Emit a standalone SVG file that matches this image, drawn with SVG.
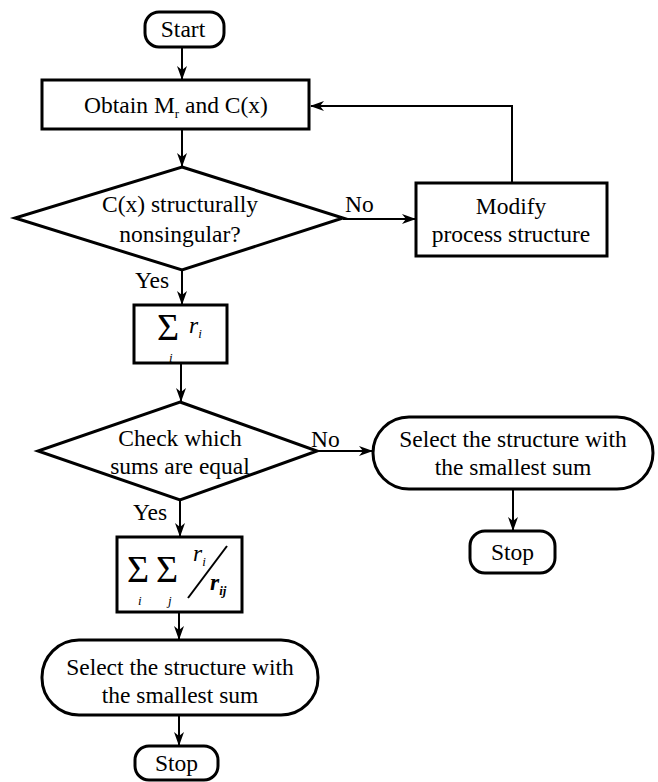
<svg xmlns="http://www.w3.org/2000/svg" width="658" height="782" viewBox="0 0 658 782" font-family="'Liberation Serif', 'DejaVu Serif', serif">
<style>
.n{fill:#fff;stroke:#000;stroke-width:3}
.c{fill:none;stroke:#000;stroke-width:2}
.t{font-family:'Liberation Serif','DejaVu Serif',serif;font-size:23.5px;fill:#000}
.m{text-anchor:middle}
.it{font-style:italic}
.big{font-size:38px;font-style:normal}
.sub{font-size:13px}
.bd{font-weight:bold}
</style>
<defs>
<marker id="a" viewBox="0 0 14 10" refX="13" refY="5" markerWidth="14" markerHeight="10" markerUnits="userSpaceOnUse" orient="auto">
<path d="M0,0 L14,5 L0,10 L4,5 Z" fill="#000"/>
</marker>
</defs>
<rect width="658" height="782" fill="#fff"/>
<g id="connectors">
<line class="c" x1="182" y1="47" x2="182" y2="79" marker-end="url(#a)"/>
<line class="c" x1="182" y1="129" x2="182" y2="166" marker-end="url(#a)"/>
<line class="c" x1="343" y1="219" x2="415" y2="219" marker-end="url(#a)"/>
<polyline class="c" points="512,183 512,106 311,106" marker-end="url(#a)"/>
<line class="c" x1="182" y1="270" x2="182" y2="304" marker-end="url(#a)"/>
<line class="c" x1="181" y1="363" x2="181" y2="401" marker-end="url(#a)"/>
<line class="c" x1="317" y1="451" x2="372" y2="451" marker-end="url(#a)"/>
<line class="c" x1="513" y1="489" x2="513" y2="530" marker-end="url(#a)"/>
<line class="c" x1="180" y1="500" x2="180" y2="536" marker-end="url(#a)"/>
<line class="c" x1="179" y1="612" x2="179" y2="639" marker-end="url(#a)"/>
<line class="c" x1="179" y1="715" x2="179" y2="745" marker-end="url(#a)"/>
<text class="t" x="345" y="212">No</text>
<text class="t" x="135" y="288">Yes</text>
<text class="t" x="311" y="447">No</text>
<text class="t" x="133" y="520">Yes</text>
</g>
<g id="start">
<rect class="n" x="145" y="12" width="79" height="35" rx="14"/>
<text class="t m" x="183" y="37">Start</text>
</g>
<g id="obtain">
<rect class="n" x="42" y="80" width="267" height="49"/>
<text class="t m" x="176" y="113">Obtain M<tspan class="sub" dy="5">r</tspan><tspan dy="-5"> and C(x)</tspan></text>
</g>
<g id="decision1">
<polygon class="n" points="182,167 343,218 182,270 15,218"/>
<text class="t m" x="180" y="212">C(x) structurally</text>
<text class="t m" x="180" y="242">nonsingular?</text>
</g>
<g id="modify">
<rect class="n" x="416" y="183" width="191" height="73"/>
<text class="t m" x="511" y="214">Modify</text>
<text class="t m" x="511" y="242">process structure</text>
</g>
<g id="sum1">
<rect class="n" x="134" y="305" width="93" height="58"/>
<text class="t big" x="157" y="340">Σ</text>
<text class="t it sub" x="169" y="362">i</text>
<text class="t it" x="189" y="333">r<tspan class="sub" dy="5">i</tspan></text>
</g>
<g id="decision2">
<polygon class="n" points="180,402 317,451 180,500 38,451"/>
<text class="t m" x="180" y="446">Check which</text>
<text class="t m" x="180" y="474">sums are equal</text>
</g>
<g id="select-right">
<rect class="n" x="373" y="417" width="280" height="72" rx="36"/>
<text class="t m" x="513" y="447">Select the structure with</text>
<text class="t m" x="513" y="475">the smallest sum</text>
</g>
<g id="stop-right">
<rect class="n" x="470" y="531" width="85" height="42" rx="15"/>
<text class="t m" x="512.5" y="560">Stop</text>
</g>
<g id="sum2">
<rect class="n" x="117" y="537" width="125" height="75"/>
<text class="t big" x="127" y="582">Σ<tspan x="156">Σ</tspan></text>
<text class="t it sub" x="138" y="605">i<tspan x="168">j</tspan></text>
<text class="t it" x="193" y="561">r<tspan class="sub" dy="5">i</tspan></text>
<line x1="188" y1="598" x2="227" y2="546" stroke="#000" stroke-width="2"/>
<text class="t it bd" x="210" y="590">r<tspan class="sub" dy="5">ij</tspan></text>
</g>
<g id="select-left">
<rect class="n" x="42" y="640" width="276" height="75" rx="37"/>
<text class="t m" x="180" y="675">Select the structure with</text>
<text class="t m" x="180" y="703">the smallest sum</text>
</g>
<g id="stop-left">
<rect class="n" x="135" y="746" width="83" height="34" rx="14"/>
<text class="t m" x="176.5" y="771">Stop</text>
</g>
</svg>
